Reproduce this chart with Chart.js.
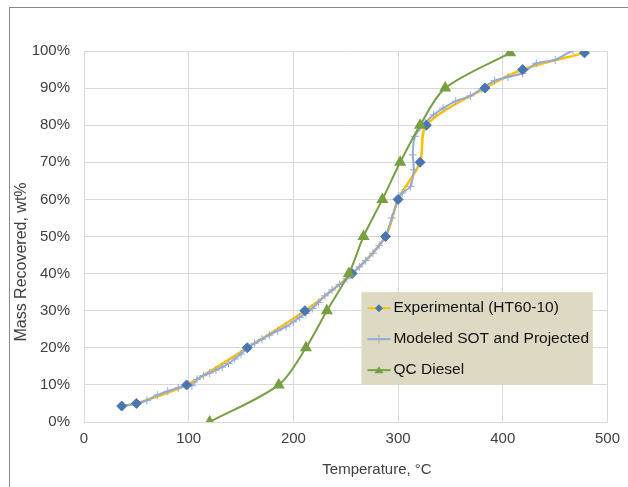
<!DOCTYPE html>
<html>
<head>
<meta charset="utf-8">
<script src="https://cdn.jsdelivr.net/npm/chart.js@4/dist/chart.umd.min.js"></script>
<style>
  html, body { margin: 0; padding: 0; background: #fff; overflow: hidden; }
  #frame { position: absolute; left: 9px; top: 7px; width: 640px; height: 500px; border: 1px solid #888; }
  #wrap { position: absolute; left: 0; top: 0; width: 628px; height: 487px; }
</style>
</head>
<body>
<div id="frame"></div>
<div id="wrap"><canvas id="grafico" width="628" height="487"></canvas></div>
<script>
// Experimental (HT60-10)
const expTemp = [36, 50, 98, 156, 211, 256, 288, 300, 321, 327, 383, 419, 478];
const expMass = [4.3, 5, 10, 20, 30, 40, 50, 60, 70, 80, 90, 95, 99.5];

// Modeled SOT and Projected
const modTemp = [36, 50, 60, 70, 80, 90, 98, 103, 108, 114, 120, 126, 132, 138, 144, 150, 156, 163, 170, 177, 185, 193, 200, 206, 212, 218, 224, 230, 237, 244, 251, 257, 263, 269, 276, 282, 288, 294, 300, 304, 312, 315, 314, 316, 326, 334, 343, 355, 369, 380, 392, 405, 419, 432, 450, 467];
const modMass = [4.3, 5, 5.8, 7.3, 8.3, 9.2, 10, 9.8, 11.5, 12.5, 13.2, 14, 14.8, 15.8, 17, 18.3, 20, 21.2, 22.3, 23.4, 24.6, 25.7, 27, 28.2, 29.3, 30.6, 32.2, 34, 35.6, 37.1, 38.6, 40.2, 41.8, 43.5, 45.5, 47.6, 50, 55, 60, 61.7, 63.5, 68, 72, 77, 80.6, 82.8, 84.6, 86.5, 87.9, 89.8, 92, 93, 94, 96.7, 97.6, 100.2];

// QC Diesel
const qcTemp = [120, 186, 212, 232, 253, 267, 285, 302, 321, 345, 407];
const qcMass = [0, 10, 20, 30, 40, 50, 60, 70, 80, 90, 99.5];

const xTicks = [0, 100, 200, 300, 400, 500];
const legendLabels = ["Experimental (HT60-10)", "Modeled SOT and Projected", "QC Diesel"];
const xTitle = "Temperature, °C";
const yTitle = "Mass Recovered, wt%";

const colOrange = "#ffc000";
const colDiamond = "#4a76b3";
const colBlue = "#94aad8";
const colGreen = "#77a043";
const textCol = "#404040";
const fontFam = "'Liberation Sans', Arial, sans-serif";

const toPts = (xs, ys) => xs.map((x, i) => ({ x: x, y: ys[i] }));

// legend drawn inside the plot in a tan box, plus axis titles placed like the original
const boxLegend = {
    id: "boxLegend",
    afterDraw(chart) {
        const ctx = chart.ctx;
        const xs = chart.scales.x, ys = chart.scales.y;
        const x0 = xs.getPixelForValue(265), x1 = xs.getPixelForValue(486);
        const y0 = ys.getPixelForValue(35), y1 = ys.getPixelForValue(10);
        ctx.save();
        ctx.fillStyle = "#ddd9c3";
        ctx.fillRect(x0, y0, x1 - x0, y1 - y0);
        const rows = [
            { line: colOrange, mark: "diamond", mcol: colDiamond },
            { line: colBlue, mark: "cross", mcol: colBlue },
            { line: colGreen, mark: "triangle", mcol: colGreen }
        ];
        ctx.font = "15.5px " + fontFam;
        ctx.textBaseline = "middle";
        rows.forEach((r, i) => {
            const cy = y0 + 16 + i * 31;
            const lx = x0 + 6;
            ctx.strokeStyle = r.line;
            ctx.lineWidth = 2;
            ctx.beginPath(); ctx.moveTo(lx, cy); ctx.lineTo(lx + 23, cy); ctx.stroke();
            const mx = lx + 11.5;
            ctx.fillStyle = r.mcol; ctx.strokeStyle = r.mcol;
            if (r.mark === "diamond") {
                ctx.beginPath(); ctx.moveTo(mx, cy - 4); ctx.lineTo(mx + 4, cy); ctx.lineTo(mx, cy + 4); ctx.lineTo(mx - 4, cy); ctx.closePath(); ctx.fill();
            } else if (r.mark === "cross") {
                ctx.lineWidth = 1;
                ctx.beginPath(); ctx.moveTo(mx, cy - 4); ctx.lineTo(mx, cy + 4); ctx.stroke();
            } else {
                ctx.beginPath(); ctx.moveTo(mx, cy - 4); ctx.lineTo(mx + 4.5, cy + 3); ctx.lineTo(mx - 4.5, cy + 3); ctx.closePath(); ctx.fill();
            }
            ctx.fillStyle = "#111";
            ctx.fillText(legendLabels[i], lx + 26, cy);
        });

        // axis titles
        ctx.fillStyle = textCol;
        ctx.font = "15px " + fontFam;
        ctx.textAlign = "center";
        ctx.fillText(xTitle, 377, 470);
        ctx.font = "16px " + fontFam;
        ctx.translate(22, 262);
        ctx.rotate(-Math.PI / 2);
        ctx.fillText(yTitle, 0, 0);
        ctx.restore();
    }
};

new Chart(document.getElementById("grafico").getContext("2d"), {
    type: "scatter",
    data: {
        datasets: [
            {
                // orange smoothed line of the experimental series
                label: legendLabels[0], data: toPts(expTemp, expMass), showLine: true,
                borderColor: colOrange, borderWidth: 2.5, tension: 0.3,
                pointRadius: 0, order: 3
            },
            {
                label: legendLabels[1], data: toPts(modTemp, modMass), showLine: true,
                borderColor: colBlue, borderWidth: 2, tension: 0.2,
                pointStyle: "cross", pointRadius: 4, pointBorderWidth: 1, pointBorderColor: colBlue, order: 2
            },
            {
                // diamond markers of the experimental series, kept on top
                label: legendLabels[0] + " markers", data: toPts(expTemp, expMass), showLine: false,
                pointStyle: "rectRot", pointRadius: 5, pointBorderWidth: 1,
                pointBackgroundColor: colDiamond, pointBorderColor: colDiamond, order: 1
            },
            {
                label: legendLabels[2], data: toPts(qcTemp, qcMass), showLine: true,
                borderColor: colGreen, borderWidth: 2, tension: 0.3,
                pointStyle: "triangle", pointRadius: 5, pointBackgroundColor: colGreen, pointBorderColor: colGreen, order: 0
            }
        ]
    },
    options: {
        responsive: false,
        animation: false,
        layout: { padding: { top: 51, right: 15, left: 8, bottom: 6 } },
        plugins: { legend: { display: false }, tooltip: { enabled: false } },
        scales: {
            x: {
                type: "linear", min: 0, max: 500,
                afterBuildTicks: s => { s.ticks = xTicks.map(v => ({ value: v })); },
                afterFit: s => { s.height = 59; },
                grid: { color: "#d9d9d9", drawTicks: false },
                border: { color: "#d9d9d9" },
                ticks: { padding: 8, color: textCol, font: { family: fontFam, size: 15 } },
                title: { display: false }
            },
            y: {
                min: 0, max: 100,
                afterFit: s => { s.width = 76; },
                grid: { color: "#d9d9d9", drawTicks: false },
                border: { color: "#d9d9d9" },
                ticks: { stepSize: 10, padding: 14, color: textCol, callback: v => v + "%", font: { family: fontFam, size: 15 } },
                title: { display: false }
            }
        }
    },
    plugins: [boxLegend]
});
</script>
</body>
</html>
